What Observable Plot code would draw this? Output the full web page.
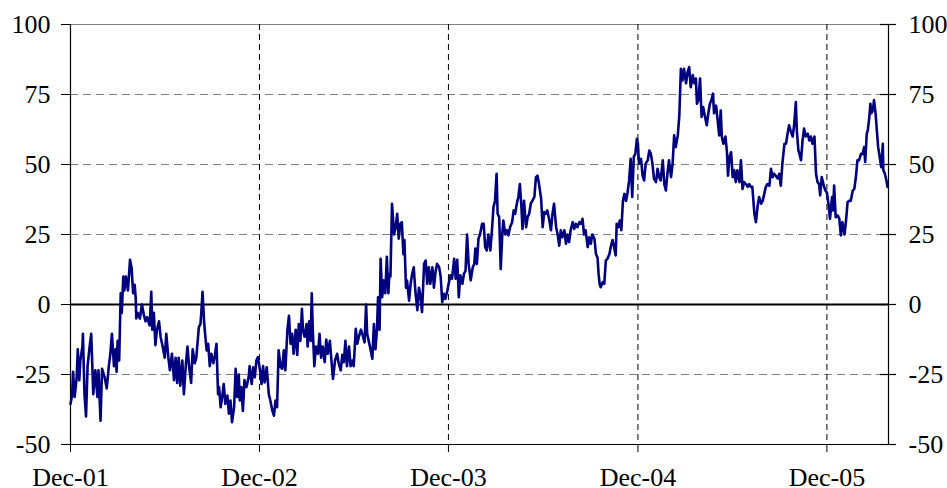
<!DOCTYPE html>
<html><head><meta charset="utf-8">
<script src="https://cdn.jsdelivr.net/npm/d3@7"></script>
<script src="https://cdn.jsdelivr.net/npm/@observablehq/plot@0.6"></script>
<style>
body{margin:0;background:#fff}
#chart svg{display:block}
#chart svg, #chart svg text{font-family:"Liberation Serif","Times New Roman",serif !important;}
</style>
</head><body><div id="chart"></div>
<script>
// Series: days since 1 Dec 2001 and the value read at that date
const startDate = "2001-12-01";
const endDate = "2006-03-30";
const dayOffsets = [
0,3,5,8,12,14,17,19,23,24,27,30,33,37,40,44,48,52,54,58,
61,66,70,74,77,80,84,87,89,91,94,97,99,102,104,107,111,115,118,121,
124,126,127,130,134,138,142,145,148,153,156,158,161,164,167,171,174,178,182,185,
189,192,196,200,203,206,209,212,216,219,223,226,229,233,236,240,243,248,251,253,
255,258,260,263,266,269,272,276,279,282,285,287,290,293,296,299,303,306,309,312,
316,319,322,325,327,330,333,336,340,344,346,350,353,356,359,362,366,369,372,375,
379,383,386,390,393,396,399,402,406,409,412,415,419,422,425,428,431,435,438,441,
444,447,449,452,456,458,461,464,466,468,471,474,478,481,484,487,491,494,497,501,
504,507,511,515,518,522,525,528,531,534,538,541,544,547,551,554,557,561,565,568,
571,573,576,580,583,586,589,592,594,597,599,602,605,608,611,614,616,618,621,625,
628,631,634,637,640,643,645,648,650,654,657,660,663,666,670,673,676,679,683,686,
689,692,695,699,702,705,708,712,715,718,721,724,728,731,734,737,741,744,747,750,
753,757,760,763,766,769,
773,777,780,782,785,788,791,795,798,801,804,807,811,814,817,820,823,825,828,831,
834,836,840,843,846,849,853,856,859,862,865,868,871,873,876,880,883,886,889,892,
896,899,902,905,909,912,915,918,921,925,928,931,934,938,941,944,947,950,954,957,
960,963,966,970,973,976,979,983,986,989,992,995,999,1002,1005,1008,1012,1015,1018,1020,
1022,1024,1028,1031,1034,1037,1041,1044,1047,1050,1053,1055,1058,1061,1064,1067,1070,1073,1076,1079,
1082,1085,1088,1091,1094,1096,1098,1102,1105,1108,1111,1115,1118,1121,1124,1127,1131,1134,1137,1140,
1144,1147,1150,1153,1156,1160,1163,1166,1169,1173,1176,1179,1182,1185,1189,1192,1195,1198,1202,1205,
1208,1210,1213,1216,1219,1222,1225,1229,1232,1235,1238,1241,1243,1247,1250,1253,1256,1258,1261,1265,
1268,1270,1273,1276,1279,1282,1285,1288,1292,1295,1298,1301,1305,1308,1311,1314,1317,1321,1324,1327,
1330,1334,1337,1340,1343,1346,1350,1353,1356,1359,1362,1366,1369,1372,1375,1379,1382,1385,1388,1391,
1395,1398,1401,1403,1406,1408,1411,1414,1417,1420,1424,1427,1430,1433,1437,1440,1443,1446,1448,1451,
1455,1458,1461,1464,1467,1471,1473,1475,1478,1482,1485,1488,1491,1495,1498,1501,1504,1507,1511,1514,
1517,1520,1523,1527,1530,1533,1535,1538,1540,1543,1545,1547,1550,1552,1555,1558,1560,1563,1566,1569,
1570,1573,1576,1578
];
const values = [
-35.5,-32.5,-24,-33,-26,-16,-27,-20,-15,-10.5,-32,-40,-22,-15,-10.5,-32,-23.5,-33,-23.5,-41.5,
-23,-26,-30,-22,-17.6,-10.5,-22,-16,-24,-13,-20,4,-3,10,5,10,5,16,13,4,
7,2,-5,-3,-5,0,-4,-6,-4.5,-7.5,4.5,-9,-3,-14.5,-9,-6,-11.5,-15,-19,-10.5,
-19,-23.5,-17.6,-27,-19,-28,-19,-29,-20,-32,-21,-15,-22,-28,-16,-21,-19,-8,-7,-2,
4.5,-6,-10.5,-16.4,-14,-22,-17.6,-21,-18,-14,-32,-29.5,-36.7,-33,-28.4,-35.5,-32.5,-39,-34.3,-42,
-36.7,-23,-33,-25,-34.3,-29.5,-38,-27,-29.5,-26,-22,-28.4,-22.4,-26,-20,-18.8,-23.5,-28.4,-22,-27.8,
-22.4,-32,-34.3,-38,-39.7,-34.3,-36.7,-16.4,-22.4,-23,-16.4,-23.5,-9,-4,-14,-10.5,-17.6,-9,-18,-7,
-13,-1.5,-9,-11.5,-7,-15,-6,-13,4,-9,-22,-15,-17.6,-10.5,-19,-15,-20.6,-12.5,-17.6,-13,
-20,-26.6,-20,-17.6,-21,-23.5,-18,-20.6,-13,-22,-15,-22,-20,-22,-8.7,-14,-11.5,-9,-11.5,-13.5,
0,-10.5,-13,-16.4,-19.4,-7,-16,-9,2.6,-9,16.3,2.6,8.6,4,17,4,11,10,36,25,
27.6,32.4,23.5,28.8,29.4,18,23,6,8.6,1.4,7.4,11,13.3,5,-2,6,3.2,-2.7,14.5,15.7,
7.4,13.3,7.4,13.3,6,11.6,14.5,13.3,10,0.8,3.8,2,5,8,10.4,9.2,16.3,9.2,16,2.6,
10.4,7.4,11,12,25,14.5,
8.6,13.3,14.5,20,14.5,23.5,25,28.8,28.8,20.5,19.3,25,19.3,26.5,34.8,37,46.7,32.4,31.2,12.7,
25,30,25,26.5,24.7,27.6,29.4,33.6,32.4,36,38.4,43,34.8,27,37,27.6,31.2,32.4,36,37,
38.4,45.5,46,43,37.8,27.6,33,32.4,33.6,30,26.5,32.4,36,27.6,25,21,26.5,24,26.5,21.7,
25,22.3,26.5,29.4,27,28.8,27.6,29.4,28.8,30.6,25,26.5,20.5,24,21.7,25,23.5,18,16.7,11,
7.4,6.2,8,7.4,15.7,16.3,18,21,23,20.5,17.5,28.8,27.6,30,26.5,37,39.5,37,40,44.3,
52,38.4,52.7,53.8,59.2,57.4,50.3,52,46,44.3,50.3,51.5,55,53.8,50.3,45,43.7,48.5,45.5,44.3,
51.5,43,40.7,46.7,51.5,45.5,50.3,60.4,56.2,60.4,67.6,84.2,80,84.2,79,83,84.8,77.6,81.9,79,
80.7,71.7,73,80.7,67,70.5,67.6,64,68.3,71.7,73,75.3,68.3,71,65.8,60.4,69.3,60,57.4,60,
54.4,46,52.7,54.4,45.5,48,43.7,47.9,43.7,51.5,41.3,43.7,43,42,43,42,42,32.4,29.4,34.8,
38.4,36,37,39.5,42,43,42.4,48.5,45.5,46.7,46,45,46.7,42.4,50.3,57.4,57.4,61,64,62,
60,64.6,72.3,62,55,53.8,51.5,58.6,62.8,60,61,58.6,60,57.4,60,46.7,43.7,43,39,45.5,
42.5,40.7,40,36,30.6,38.4,33.6,42.5,31.2,31.8,30.6,24.7,29.4,25,30,36.6,37,37,40.7,41.3,
45.5,51.5,51.5,53.8,53.8,56.2,50.9,61,62.2,67,71.7,68.3,69.5,73,68.3,61,56.2,52.7,49,57.4,
48,46.7,44.3,42
];
const xTickDates = ["2001-12-01","2002-12-01","2003-12-01","2004-12-01","2005-12-01"];
const xTickLabels = ["Dec-01","Dec-02","Dec-03","Dec-04","Dec-05"];
const yTicks = [-50,-25,0,25,50,75,100];
const yGrid = [-25,25,50,75];

const start = new Date(startDate);
const end = new Date(endDate);
const data = dayOffsets.map((d, i) => ({date: d3.utcDay.offset(start, d), value: values[i]}));
const xTicks = xTickDates.map(d => new Date(d));
const labelOf = new Map(xTicks.map((d, i) => [+d, xTickLabels[i]]));
const fmtY = d => String(d);
const serif = "'Liberation Serif','Times New Roman',serif";

const plot = Plot.plot({
  width: 947,
  height: 488,
  marginLeft: 70,
  marginRight: 59,
  marginTop: 24,
  marginBottom: 44,
  style: {fontFamily: serif, fontSize: "26px", color: "#000", background: "#fff"},
  x: {type: "utc", domain: [start, end], label: null},
  y: {domain: [-50, 100], label: null},
  marks: [
    Plot.ruleY(yGrid, {stroke: "#808080", strokeDasharray: "8,5", strokeWidth: 1}),
    Plot.ruleY([100], {stroke: "#808080", strokeWidth: 1}),
    Plot.ruleX(xTicks.slice(1), {stroke: "#000", strokeDasharray: "6,4", strokeWidth: 1}),
    Plot.ruleX([start, end], {stroke: "#000", strokeWidth: 1.2}),
    Plot.ruleY([-50], {stroke: "#000", strokeWidth: 1.2}),
    Plot.ruleY(yTicks, {x1: end, x2: end, insetLeft: -8, insetRight: -8, stroke: "#000", strokeWidth: 1.2}),
    Plot.ruleY([0], {stroke: "#000", strokeWidth: 2}),
    Plot.line(data, {x: "date", y: "value", stroke: "#000080", strokeWidth: 2.6}),
    Plot.axisY(yTicks, {anchor: "left", label: null, tickSize: 9, tickPadding: 11, tickFormat: fmtY, fontSize: 26, fontFamily: serif}),
    Plot.axisY(yTicks, {anchor: "right", label: null, tickSize: 0, tickPadding: 20, tickFormat: fmtY, fontSize: 26, fontFamily: serif}),
    Plot.axisX(xTicks, {anchor: "bottom", label: null, tickSize: 8, tickPadding: 15, tickFormat: d => labelOf.get(+d), fontSize: 26, fontFamily: serif})
  ]
});
document.getElementById("chart").appendChild(plot);
</script>
</body></html>
